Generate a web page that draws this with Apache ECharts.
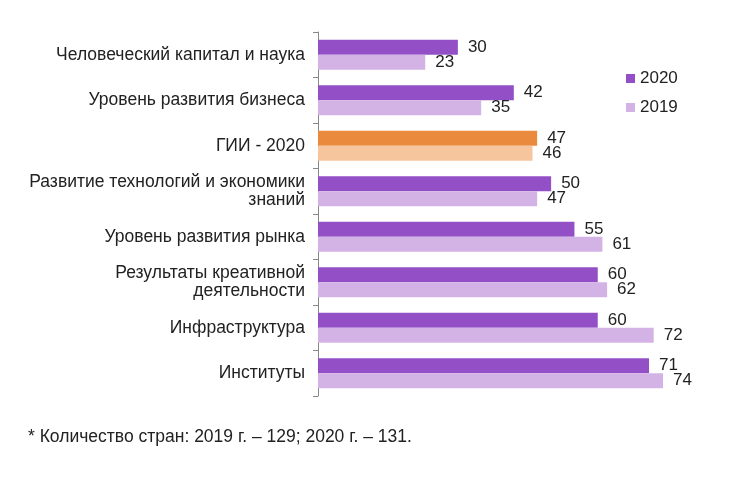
<!DOCTYPE html>
<html><head><meta charset="utf-8">
<script src="https://cdn.jsdelivr.net/npm/echarts@6/dist/echarts.min.js"></script>
<style>html,body{margin:0;padding:0;background:#fff}#c{width:750px;height:478px}</style>
</head><body><div id="c"></div>
<script>
const categories = [
  'Человеческий капитал и наука',
  'Уровень развития бизнеса',
  'ГИИ - 2020',
  'Развитие технологий и экономики\nзнаний',
  'Уровень развития рынка',
  'Результаты креативной\nдеятельности',
  'Инфраструктура',
  'Институты'
];
const values2020 = [30, 42, 47, 50, 55, 60, 60, 71];
const values2019 = [23, 35, 46, 47, 61, 62, 72, 74];
const highlightCategory = 'ГИИ - 2020';
const footnote = '* Количество стран: 2019 г. – 129; 2020 г. – 131.';

const C2020 = '#9350c6', C2019 = '#d3b3e6', H2020 = '#e98a3c', H2019 = '#f6c59d';
function build(vals, hl) {
  return vals.map((v, i) => categories[i] === highlightCategory ? {value: v, itemStyle: {color: hl}} : v);
}
const font = 'Liberation Sans, Arial, sans-serif';
const chart = echarts.init(document.getElementById('c'), null, {renderer: 'canvas'});
chart.setOption({
  animation: false,
  textStyle: {fontFamily: font},
  grid: {left: 318, top: 32, bottom: 82, right: 59, containLabel: false},
  legend: {
    orient: 'vertical', left: 621, top: 65, itemWidth: 9, itemHeight: 9, itemGap: 12,
    icon: 'rect',
    textStyle: {fontSize: 17, color: '#222', fontFamily: font},
    data: ['2020', '2019']
  },
  xAxis: {type: 'value', min: 0, max: 80, show: false},
  yAxis: {
    type: 'category', inverse: true, data: categories,
    axisLine: {lineStyle: {color: '#888'}},
    axisTick: {show: true, length: 5, lineStyle: {color: '#888'}},
    axisLabel: {fontSize: 17.5, color: '#222', margin: 13, align: 'right', lineHeight: 18, fontFamily: font}
  },
  series: [
    {name: '2020', type: 'bar', data: build(values2020, H2020), itemStyle: {color: C2020},
     barWidth: 15, barGap: '0%', barCategoryGap: '32%',
     label: {show: true, position: 'right', distance: 10, fontSize: 17, color: '#222', fontFamily: font}},
    {name: '2019', type: 'bar', data: build(values2019, H2019), itemStyle: {color: C2019},
     barWidth: 15, barGap: '0%',
     label: {show: true, position: 'right', distance: 10, fontSize: 17, color: '#222', fontFamily: font}}
  ],
  graphic: [{type: 'text', left: 28, top: 428, style: {text: footnote, fontSize: 17.5, fill: '#222', fontFamily: font}}]
});
</script></body></html>
